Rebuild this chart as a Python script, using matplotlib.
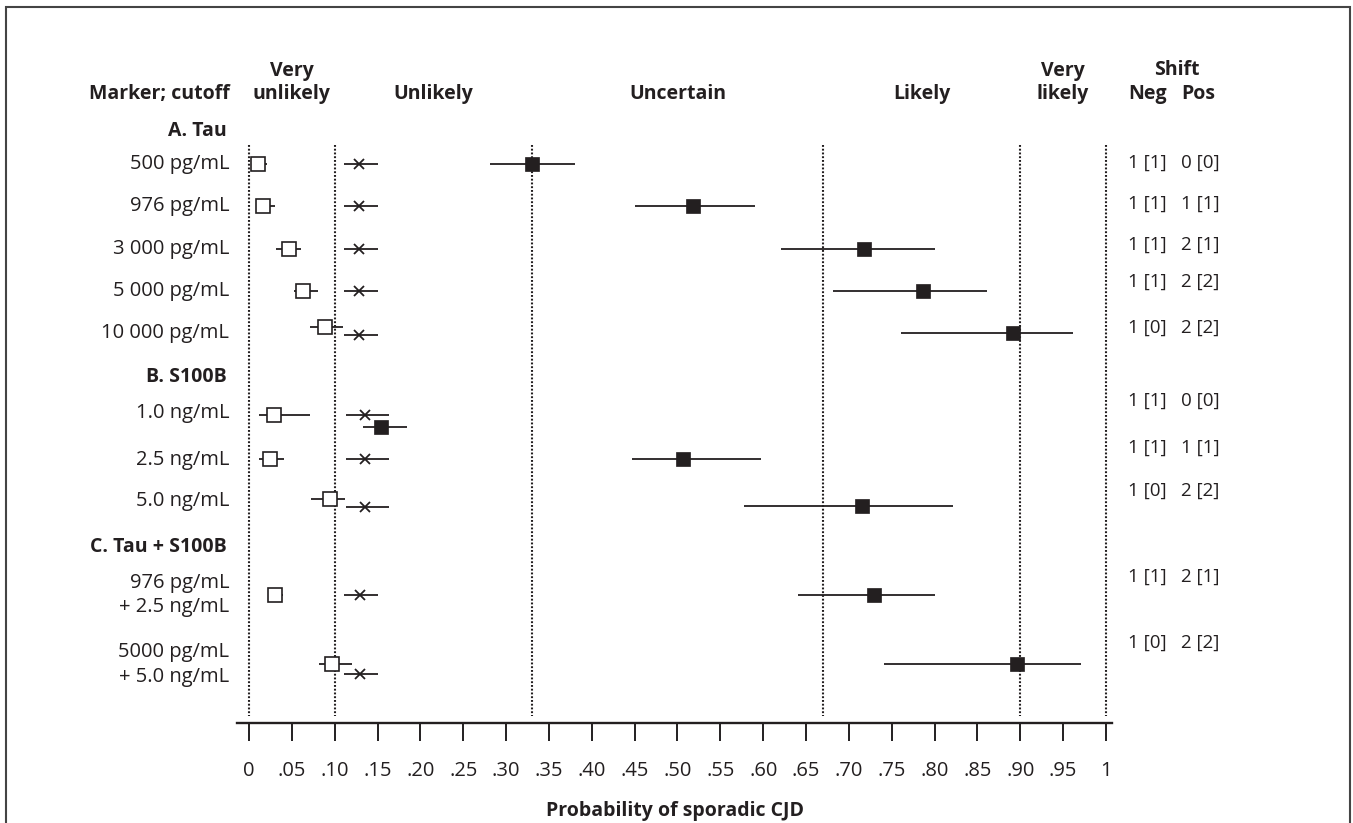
import numpy as np
import matplotlib.pyplot as plt
from matplotlib.patches import Rectangle

plt.rcParams['font.family'] = ['Open Sans', 'DejaVu Sans']

# --- data -----------------------------------------------------------------
labels = ["500 pg/mL", "976 pg/mL", "3 000 pg/mL", "5 000 pg/mL", "10 000 pg/mL",
          "1.0 ng/mL", "2.5 ng/mL", "5.0 ng/mL",
          "976 pg/mL\n+ 2.5 ng/mL", "5000 pg/mL\n+ 5.0 ng/mL"]
groups = ["A. Tau", "B. S100B", "C. Tau + S100B"]

# probability after a negative test (open squares)
neg    = [0.010, 0.016, 0.047, 0.063, 0.089, 0.029, 0.025, 0.094, 0.030, 0.097]
neg_lo = [0.003, 0.009, 0.031, 0.052, 0.071, 0.012, 0.012, 0.072, 0.022, 0.082]
neg_hi = [0.021, 0.030, 0.061, 0.081, 0.110, 0.071, 0.041, 0.112, 0.040, 0.120]
# pretest probability (crosses)
pre    = [0.128, 0.128, 0.128, 0.128, 0.128, 0.135, 0.135, 0.135, 0.130, 0.130]
pre_lo = [0.111, 0.111, 0.111, 0.111, 0.111, 0.113, 0.113, 0.113, 0.111, 0.111]
pre_hi = [0.151, 0.151, 0.151, 0.151, 0.151, 0.163, 0.163, 0.163, 0.151, 0.151]
# probability after a positive test (filled squares)
pos    = [0.330, 0.518, 0.718, 0.787, 0.892, 0.154, 0.507, 0.715, 0.729, 0.896]
pos_lo = [0.281, 0.450, 0.621, 0.681, 0.761, 0.133, 0.447, 0.578, 0.641, 0.741]
pos_hi = [0.380, 0.590, 0.801, 0.861, 0.961, 0.184, 0.598, 0.821, 0.801, 0.971]

shift_neg = ["1 [1]", "1 [1]", "1 [1]", "1 [1]", "1 [0]", "1 [1]", "1 [1]", "1 [0]", "1 [1]", "1 [0]"]
shift_pos = ["0 [0]", "1 [1]", "2 [1]", "2 [2]", "2 [2]", "0 [0]", "1 [1]", "2 [2]", "2 [1]", "2 [2]"]

cut_points = [0, 0.10, 0.33, 0.67, 0.90, 1.0]
categories = ["Very\nunlikely", "Unlikely", "Uncertain", "Likely", "Very\nlikely"]

ticks = np.arange(0, 1.0001, 0.05)
tick_labels = ["0", ".05", ".10", ".15", ".20", ".25", ".30", ".35", ".40", ".45", ".50",
               ".55", ".60", ".65", ".70", ".75", ".80", ".85", ".90", ".95", "1"]

# --- layout (row units, 0 = first row, growing downwards) ------------------
row_y   = np.array([0, 0.98, 2.0, 2.98, 3.98, 5.85, 6.97, 7.92, 10.14, 11.78])
neg_dy  = np.array([0, 0, 0, 0, -0.15, 0.06, -0.02, -0.04, 0, -0.02])
pre_dy  = np.array([0, 0, 0, 0, 0.04, 0.06, -0.02, 0.15, 0, 0.22])
pos_dy  = np.array([0, 0, 0, 0, 0, 0.34, -0.02, 0.13, 0, -0.02])
shift_y = [-0.04, 0.94, 1.91, 2.78, 3.86, 5.58, 6.68, 7.69, 9.72, 11.27]
group_y = [-0.78, 5.01, 9.01]

ink = '#231f20'
fs = 14.5

fig = plt.figure(figsize=(13.53, 8.23), dpi=100)
fig.patches.append(Rectangle((6 / 1353, -0.01), 1344 / 1353, 816 / 823 + 0.01,
                             transform=fig.transFigure, fill=False,
                             edgecolor='#444444', lw=1.5))

ax = fig.add_axes([237 / 1353, 100 / 823, 875 / 1353, 673 / 823])
ax.set_xlim(-0.014, 1.007)
ax.set_ylim(13.153, -2.682)

for s in ['left', 'top', 'right']:
    ax.spines[s].set_visible(False)
ax.spines['bottom'].set_linewidth(1.7)
ax.spines['bottom'].set_color(ink)
ax.set_yticks([])
ax.set_xticks(ticks)
ax.set_xticklabels(tick_labels, fontsize=14.5, color=ink)
ax.tick_params(axis='x', direction='out', length=13, width=1.4, color=ink, pad=14)
ax.set_xlabel("Probability of sporadic CJD", fontsize=14, fontweight='bold',
              color=ink, labelpad=15)

# category borders
ax.vlines(cut_points, -0.45, 13.0, colors=ink, lw=1.5, linestyles=(0, (0.9, 0.9)))

# markers and intervals
ax.hlines(row_y + neg_dy, neg_lo, neg_hi, colors=ink, lw=1.3, zorder=2)
ax.hlines(row_y + pre_dy, pre_lo, pre_hi, colors=ink, lw=1.3, zorder=2)
ax.hlines(row_y + pos_dy, pos_lo, pos_hi, colors=ink, lw=1.3, zorder=2)
ax.plot(neg, row_y + neg_dy, 's', ms=9.6, mfc='white', mec=ink, mew=1.2, zorder=3)
ax.plot(pre, row_y + pre_dy, 'x', ms=7.5, mec=ink, mew=1.3, zorder=3)
ax.plot(pos, row_y + pos_dy, 's', ms=10, mfc=ink, mec=ink, mew=0.5, zorder=3)

# left labels
for lab, y in zip(labels, row_y):
    ax.text(-0.023, y, lab, ha='right', va='center', fontsize=fs, color=ink,
            multialignment='right', linespacing=1.3)
for g, y in zip(groups, group_y):
    ax.text(-0.026, y, g, ha='right', va='center', fontsize=14,
            fontweight='bold', color=ink)

# header row
head_y = -1.42
line_step = 0.56
ax.text(-0.023, head_y, "Marker; cutoff", ha='right', va='bottom', fontsize=14,
        fontweight='bold', color=ink)
for i, cat in enumerate(categories):
    mid = (cut_points[i] + cut_points[i + 1]) / 2
    ax.text(mid, head_y, cat, ha='center', va='bottom', fontsize=14,
            fontweight='bold', color=ink, linespacing=1.15)
ax.text(1.083, head_y - line_step, "Shift", ha='center', va='bottom', fontsize=14,
        fontweight='bold', color=ink)
ax.text(1.026, head_y, "Neg", ha='left', va='bottom', fontsize=14,
        fontweight='bold', color=ink)
ax.text(1.0875, head_y, "Pos", ha='left', va='bottom', fontsize=14,
        fontweight='bold', color=ink)

# shift columns
for sn, sp, y in zip(shift_neg, shift_pos, shift_y):
    ax.text(1.026, y, sn, ha='left', va='center', fontsize=13.5, color=ink)
    ax.text(1.0875, y, sp, ha='left', va='center', fontsize=13.5, color=ink)

for t in ax.texts:
    t.set_clip_on(False)

fig.savefig("out.png", dpi=100)
